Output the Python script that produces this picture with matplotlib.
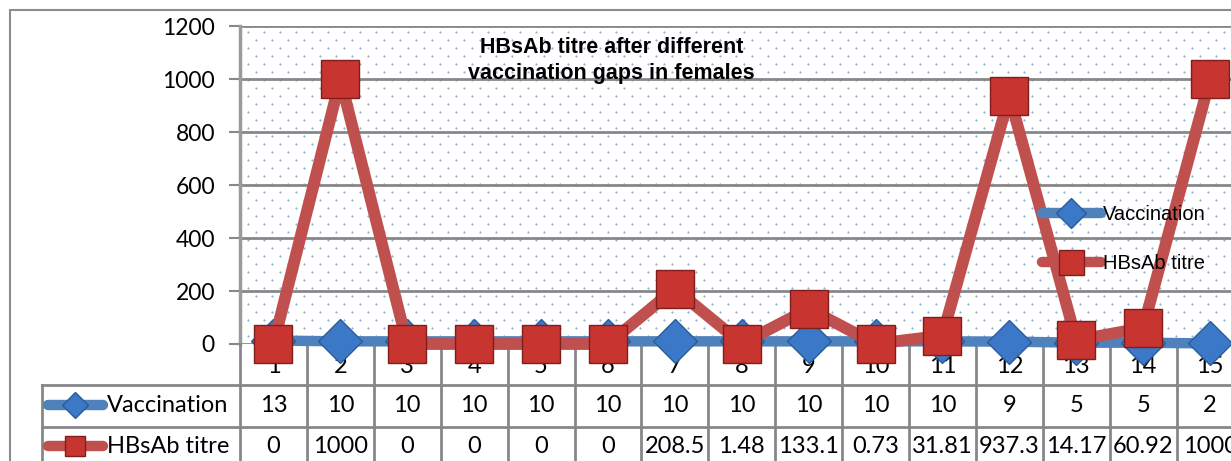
import matplotlib
matplotlib.use("Agg")
import matplotlib.pyplot as plt
import matplotlib.transforms as mtransforms
from matplotlib.lines import Line2D
from matplotlib.patches import Rectangle
import numpy as np

categories = ["1", "2", "3", "4", "5", "6", "7", "8", "9", "10", "11", "12", "13", "14", "15"]
vaccination = [13, 10, 10, 10, 10, 10, 10, 10, 10, 10, 10, 9, 5, 5, 2]
hbsab = [0, 1000, 0, 0, 0, 0, 208.5, 1.48, 133.1, 0.73, 31.81, 937.3, 14.17, 60.92, 1000]
hbsab_labels = ["0", "1000", "0", "0", "0", "0", "208.5", "1.48", "133.1", "0.73",
                "31.81", "937.3", "14.17", "60.92", "1000"]
yticks = [0, 200, 400, 600, 800, 1000, 1200]
title = "HBsAb titre after different\nvaccination gaps in females"
series_names = ["Vaccination", "HBsAb titre"]

W, H = 1231, 461
fig = plt.figure(figsize=(W / 100, H / 100), dpi=100)

def fx(px):
    return px / W

def fy(py):
    return 1 - py / H

BLUE = "#4F81BD"
BLUE_M = "#3C78C8"
BLUE_E = "#2B5C98"
RED = "#C0504D"
RED_M = "#C8342F"
RED_E = "#7F1F1C"
GRID = "#878787"
DOT = "#8DB4E2"

NUM_FONT = ["Lato", "DejaVu Sans"]
NARROW = ["Liberation Sans Narrow", "Liberation Sans", "DejaVu Sans"]
NUM_SIZE = 17

# chart area border
fig.add_artist(Rectangle((fx(10), fy(470)), 1.0, fy(10) - fy(470), transform=fig.transFigure,
                         fill=False, edgecolor="#8C8C8C", linewidth=1.5))

left_px, right_px = 240, 240 + 15 * 66.9
top_px, bot_px = 26, 344
ax = fig.add_axes([fx(left_px), fy(bot_px), fx(right_px - left_px), fy(top_px) - fy(bot_px)])
ax.set_xlim(0.5, len(categories) + 0.5)
ax.set_ylim(0, 1200)
ax.set_facecolor("white")

# dotted background pattern
xs, ys = [], []
nrow = int((bot_px - top_px) / 8) + 1
for r in range(nrow):
    off = 0 if r % 2 == 0 else 8
    for c in np.arange(8 + off, right_px - left_px, 16):
        xs.append(c / (right_px - left_px))
        ys.append(1 - (6 + r * 8) / (bot_px - top_px))
ax.plot(xs, ys, linestyle="none", marker="o", markersize=1.6, color=DOT,
        markeredgewidth=0, transform=ax.transAxes, zorder=0)

ax.set_yticks(yticks)
ax.yaxis.grid(True, color=GRID, linewidth=2)
ax.set_axisbelow(True)
ax.tick_params(axis="y", length=8, width=1.5, color=GRID, labelsize=16.5, pad=10)
for lab in ax.get_yticklabels():
    lab.set_fontfamily(NUM_FONT)
ax.set_xticks([])
for s in ["top", "right", "bottom"]:
    ax.spines[s].set_visible(False)
ax.spines["left"].set_color("#9A9A9A")
ax.spines["left"].set_linewidth(2.5)

x = np.arange(1, len(categories) + 1)
l1, = ax.plot(x, vaccination, color=BLUE, linewidth=7.5, solid_capstyle="round",
              marker="D", markersize=22, markerfacecolor=BLUE_M, markeredgecolor=BLUE_E,
              markeredgewidth=1, clip_on=False, zorder=3)
l2, = ax.plot(x, hbsab, color=RED, linewidth=8.5, solid_capstyle="round",
              marker="s", markersize=27, markerfacecolor=RED_M, markeredgecolor=RED_E,
              markeredgewidth=1, clip_on=False, zorder=4)

ax.text(0.37, 0.965, title, transform=ax.transAxes, ha="center", va="top",
        fontsize=15.5, fontweight="bold", family=NARROW, linespacing=1.3, zorder=6)

# legend inside plot
leg_handles = [
    Line2D([0], [0], color=BLUE, linewidth=7.5, solid_capstyle="round", marker="D", markersize=15,
           markerfacecolor=BLUE_M, markeredgecolor=BLUE_E),
    Line2D([0], [0], color=RED, linewidth=7.5, solid_capstyle="round", marker="s", markersize=18,
           markerfacecolor=RED_M, markeredgecolor=RED_E),
]
fig.legend(leg_handles, series_names, loc="center left",
           bbox_to_anchor=(fx(1028), fy(239)), frameon=False, handlelength=2.9,
           handletextpad=0.1, labelspacing=1.45, borderpad=0.2,
           prop={"family": NARROW, "size": 14.5})

# data table
blend = mtransforms.blended_transform_factory(ax.transData, fig.transFigure)
table_bottom = fy(475)
lw = 2
fig.add_artist(Line2D([fx(42), 1.01], [fy(385), fy(385)], color=GRID, linewidth=lw,
                      transform=fig.transFigure))
fig.add_artist(Line2D([fx(42), 1.01], [fy(427), fy(427)], color=GRID, linewidth=lw,
                      transform=fig.transFigure))
fig.add_artist(Line2D([fx(42), fx(42)], [fy(385), table_bottom], color=GRID, linewidth=lw,
                      transform=fig.transFigure))
fig.add_artist(Line2D([fx(240), fx(240)], [fy(344), table_bottom], color=GRID, linewidth=lw,
                      transform=fig.transFigure))
for k in range(1, len(categories)):
    ax.add_artist(Line2D([k + 0.5, k + 0.5], [fy(344), table_bottom], color=GRID,
                         linewidth=lw, transform=blend, zorder=1, clip_on=False))

for xi, c, v, h in zip(x, categories, vaccination, hbsab_labels):
    ax.text(xi, fy(366), c, transform=blend, ha="center", va="center", fontsize=NUM_SIZE,
            family=NUM_FONT, zorder=1, clip_on=False)
    fig.text(xi, fy(405), str(v), transform=blend, ha="center", va="center", fontsize=NUM_SIZE,
             family=NUM_FONT)
    fig.text(xi, fy(446), h, transform=blend, ha="center", va="center", fontsize=NUM_SIZE,
             family=NUM_FONT)

# table legend keys
fig.add_artist(Line2D([fx(48), fx(103)], [fy(405), fy(405)], color=BLUE, linewidth=7.5,
                      solid_capstyle="round", transform=fig.transFigure))
fig.add_artist(Line2D([fx(75)], [fy(405)], marker="D", markersize=13, markerfacecolor=BLUE_M,
                      markeredgecolor=BLUE_E, linestyle="none", transform=fig.transFigure))
fig.add_artist(Line2D([fx(48), fx(103)], [fy(446), fy(446)], color=RED, linewidth=7.5,
                      solid_capstyle="round", transform=fig.transFigure))
fig.add_artist(Line2D([fx(75)], [fy(446)], marker="s", markersize=15, markerfacecolor=RED_M,
                      markeredgecolor=RED_E, linestyle="none", transform=fig.transFigure))
fig.text(fx(107), fy(405), series_names[0], ha="left", va="center", fontsize=17, family=NUM_FONT)
fig.text(fx(107), fy(446), series_names[1], ha="left", va="center", fontsize=17, family=NUM_FONT)

fig.savefig("out.png", dpi=100)
